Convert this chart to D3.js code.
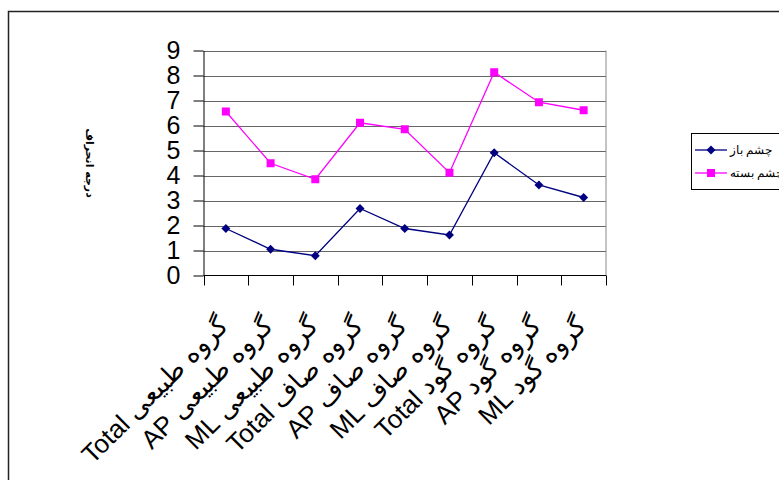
<!DOCTYPE html>
<html><head><meta charset="utf-8">
<script src="https://cdn.jsdelivr.net/npm/d3@7"></script>
<style>
html,body{margin:0;padding:0;background:#fff;}
svg{display:block;font-family:"Liberation Sans",Arial,sans-serif;}
</style></head>
<body>
<svg id="c" width="779" height="480"></svg>
<script>
const categories = [
  "Total گروه طبیعی", "AP گروه طبیعی", "ML گروه طبیعی",
  "Total گروه صاف", "AP گروه صاف", "ML گروه صاف",
  "Total گروه گود", "AP گروه گود", "ML گروه گود"
];
const openEyes = [1.88, 1.05, 0.79, 2.68, 1.88, 1.62, 4.91, 3.62, 3.12];
const closedEyes = [6.56, 4.49, 3.85, 6.11, 5.85, 4.11, 8.13, 6.93, 6.61];
const seriesNames = ["چشم باز", "چشم بسته"];
const yTicks = [0, 1, 2, 3, 4, 5, 6, 7, 8, 9];
const yTitle = "درجه انحراف";

const svg = d3.select("#c");
svg.append("rect").attr("width", 779).attr("height", 480).attr("fill", "#fff");
// outer chart frame
svg.append("path").attr("d", "M8.5,481 V11.5 H781").attr("fill", "none")
  .attr("stroke", "#222").attr("stroke-width", 1.5);

const L = 203.5, R = 606, T = 50.5, B = 275.5;
const x = d3.scaleBand().domain(categories).range([L, R]).padding(0);
const y = d3.scaleLinear().domain([0, 9]).range([B, T]);

// gridlines
svg.append("g").selectAll("line").data(yTicks.filter(d => d > 0)).join("line")
  .attr("x1", L).attr("x2", R).attr("y1", d => Math.round(y(d)) + 0.5).attr("y2", d => Math.round(y(d)) + 0.5)
  .attr("stroke", "#666").attr("stroke-width", 1);
// right border of plot
svg.append("line").attr("x1", R).attr("x2", R).attr("y1", T).attr("y2", B)
  .attr("stroke", "#8a8a8a");

// y axis
const yAxis = d3.axisLeft(y).tickValues(yTicks).tickSize(10).tickPadding(13).tickSizeOuter(0);
const gy = svg.append("g").attr("transform", `translate(${L},0)`).call(yAxis);
gy.select(".domain").attr("stroke", "#000");
gy.selectAll(".tick line").attr("stroke", "#000");
gy.selectAll(".tick text").attr("font-size", 25).attr("fill", "#000")
  .attr("font-family", "'Liberation Sans',Arial,sans-serif");

// x axis
const ticksX = categories.map(c => x(c)).concat([R]);
const gx = svg.append("g");
gx.append("line").attr("x1", L).attr("x2", R).attr("y1", B).attr("y2", B).attr("stroke", "#000");
gx.selectAll("line.t").data(ticksX).join("line").attr("class", "t")
  .attr("x1", d => Math.round(d) + 0.5).attr("x2", d => Math.round(d) + 0.5)
  .attr("y1", B).attr("y2", B + 10).attr("stroke", "#000");
gx.selectAll("text").data(categories).join("text")
  .attr("transform", d => `translate(${x(d) + x.bandwidth() / 2 + 4},${B + 52}) rotate(-45)`)
  .attr("text-anchor", "end")
  .attr("font-size", 26).attr("fill", "#000")
  .text(d => d);

// y title
svg.append("text")
  .attr("transform", `translate(90,${(T + B) / 2}) rotate(90)`)
  .attr("text-anchor", "middle").attr("dy", "0.35em")
  .attr("font-size", 11).attr("font-weight", "bold").attr("fill", "#000")
  .attr("font-family", "'DejaVu Sans',sans-serif")
  .text(yTitle);

const cx = (d, i) => x(categories[i]) + x.bandwidth() / 2;
const line = d3.line().x((d, i) => cx(d, i)).y(d => y(d));

// series
svg.append("path").datum(openEyes).attr("d", line).attr("fill", "none")
  .attr("stroke", "#000080").attr("stroke-width", 1.3);
svg.append("path").datum(closedEyes).attr("d", line).attr("fill", "none")
  .attr("stroke", "#ff00ff").attr("stroke-width", 1.3);

svg.append("g").selectAll("path").data(openEyes).join("path")
  .attr("transform", (d, i) => `translate(${cx(d, i)},${y(d)}) rotate(45)`)
  .attr("d", d3.symbol().type(d3.symbolSquare).size(40))
  .attr("fill", "#000080");
svg.append("g").selectAll("rect").data(closedEyes).join("rect")
  .attr("x", (d, i) => cx(d, i) - 4).attr("y", d => y(d) - 4)
  .attr("width", 8).attr("height", 8).attr("fill", "#ff00ff");

// legend
const lg = svg.append("g");
lg.append("rect").attr("x", 691.5).attr("y", 133.5).attr("width", 100).attr("height", 56)
  .attr("fill", "#fff").attr("stroke", "#000");
const ly = [150, 173];
lg.append("line").attr("x1", 695).attr("x2", 727).attr("y1", ly[0]).attr("y2", ly[0])
  .attr("stroke", "#000080").attr("stroke-width", 1.3);
lg.append("path").attr("transform", `translate(711,${ly[0]}) rotate(45)`)
  .attr("d", d3.symbol().type(d3.symbolSquare).size(40)).attr("fill", "#000080");
lg.append("line").attr("x1", 695).attr("x2", 727).attr("y1", ly[1]).attr("y2", ly[1])
  .attr("stroke", "#ff00ff").attr("stroke-width", 1.3);
lg.append("rect").attr("x", 707).attr("y", ly[1] - 4).attr("width", 8).attr("height", 8)
  .attr("fill", "#ff00ff");
lg.selectAll("text").data(seriesNames).join("text")
  .attr("x", 730).attr("y", (d, i) => ly[i]).attr("dy", "0.35em")
  .attr("font-size", 12).attr("fill", "#000").text(d => d);
</script>
</body></html>
